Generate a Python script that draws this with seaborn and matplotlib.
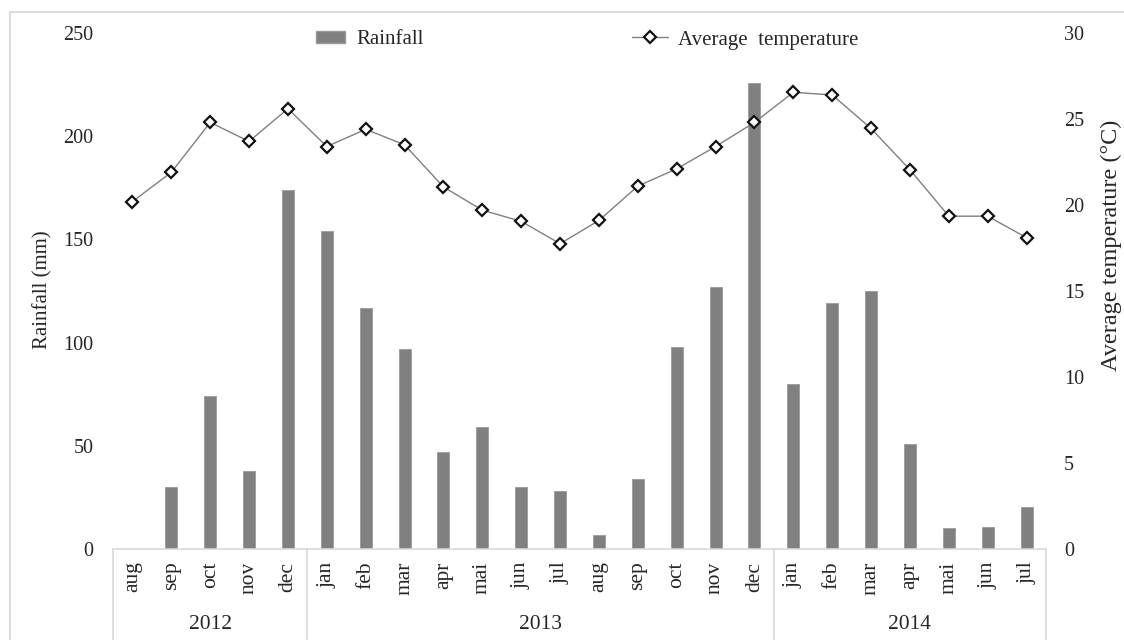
import numpy as np
import pandas as pd
import matplotlib
matplotlib.use('Agg')
import matplotlib.pyplot as plt
from matplotlib.patches import Patch, Rectangle
from matplotlib.lines import Line2D
import seaborn as sns

# data
months = ['aug', 'sep', 'oct', 'nov', 'dec',
          'jan', 'feb', 'mar', 'apr', 'mai', 'jun', 'jul', 'aug', 'sep', 'oct', 'nov', 'dec',
          'jan', 'feb', 'mar', 'apr', 'mai', 'jun', 'jul']
years = ['2012'] * 5 + ['2013'] * 12 + ['2014'] * 7
rainfall = [0, 30, 74, 38, 174,
            154, 117, 97, 47, 59, 30, 28, 7, 34, 98, 127, 226,
            80, 119, 125, 51, 10, 10.5, 20.5]
temperature = [20.2, 21.9, 24.8, 23.7, 25.6,
               23.4, 24.4, 23.5, 21.05, 19.7, 19.05, 17.75, 19.1, 21.1, 22.1, 23.4, 24.8,
               26.55, 26.4, 24.45, 22.05, 19.35, 19.35, 18.1]

df = pd.DataFrame({'idx': np.arange(len(months)), 'month': months, 'year': years,
                   'rain': rainfall, 'temp': temperature})

sns.set_style('white')
plt.rcParams['font.family'] = ['Liberation Serif', 'DejaVu Serif']
plt.rcParams['font.size'] = 14.5

W, H = 1124, 640
fig = plt.figure(figsize=(W / 100, H / 100), dpi=100)
ax = fig.add_axes([113 / W, 1 - 549 / H, (1046 - 113) / W, (549 - 33) / H])

# outer frame
fig.patches.append(Rectangle((10 / W, -0.1), 2, 1 - 12 / H + 0.1, transform=fig.transFigure,
                             fill=False, edgecolor='#d6d6d6', linewidth=1.2))

sns.barplot(data=df, x='idx', y='rain', ax=ax, color='#808080', width=0.31,
            saturation=1, edgecolor='#9a9a9a', linewidth=0.6)
ax.set_ylim(0, 250)
ax.set_yticks([0, 50, 100, 150, 200, 250])
ax.set_xlim(-0.5, len(months) - 0.5)
ax.set_xticks(df['idx'])
ax.set_xticklabels(months, rotation=90, va='top', ha='center')
ax.tick_params(axis='x', length=0, pad=9, labelsize=15.5)
ax.tick_params(axis='y', length=0, pad=14, labelsize=14.5)
ax.set_xlabel('')
ax.set_ylabel('')
for s in ax.spines.values():
    s.set_visible(False)

mk = dict(marker='D', markersize=6.5, markerfacecolor='white',
          markeredgecolor='#111111', markeredgewidth=1.6)

ax2 = ax.twinx()
sns.lineplot(data=df, x='idx', y='temp', ax=ax2, color='#808080', linewidth=1, **mk)
ax2.set_ylim(0, 30)
ax2.set_yticks([0, 5, 10, 15, 20, 25, 30])
ax2.set_xlim(-0.5, len(months) - 0.5)
ax2.tick_params(axis='y', length=0, pad=13, labelsize=14.5)
ax2.set_xlabel('')
ax2.set_ylabel('')
for s in ax2.spines.values():
    s.set_visible(False)

# category box below the axis
trans = ax.get_xaxis_transform()
grid_c = '#d9d9d9'
ax.plot([-0.5, len(months) - 0.5], [0, 0], color=grid_c, lw=1.2, transform=trans, clip_on=False)
bounds = [-0.5]
for i in range(1, len(years)):
    if years[i] != years[i - 1]:
        bounds.append(i - 0.5)
bounds.append(len(years) - 0.5)
for b in bounds:
    ax.plot([b, b], [0, -0.2], color=grid_c, lw=1.2, transform=trans, clip_on=False)
for k, yr in enumerate(dict.fromkeys(years)):
    ax.text((bounds[k] + bounds[k + 1]) / 2, -0.147, yr, transform=trans,
            ha='center', va='center', fontsize=15.5)

# axis titles
fig.text(43 / W, 1 - 290 / H, 'Rainfall (mm)', rotation=90, ha='center', va='center', fontsize=15)
fig.text(1111 / W, 1 - 245 / H, 'Average temperature (°C)', rotation=90,
         ha='center', va='center', fontsize=17.5)

# legends
leg1 = fig.legend(handles=[Patch(facecolor='#808080', edgecolor='#9a9a9a', label='Rainfall')],
                  loc='center left', bbox_to_anchor=(316 / W, 1 - 40 / H), frameon=False,
                  borderpad=0, borderaxespad=0, handlelength=1.4, handleheight=0.48,
                  handletextpad=0.55, fontsize=15)
leg2 = fig.legend(handles=[Line2D([], [], color='#808080', lw=1, label='Average  temperature', **mk)],
                  loc='center left', bbox_to_anchor=(632 / W, 1 - 40 / H), frameon=False,
                  borderpad=0, borderaxespad=0, handlelength=1.75,
                  handletextpad=0.45, fontsize=15)

fig.savefig('out.png', dpi=100)
